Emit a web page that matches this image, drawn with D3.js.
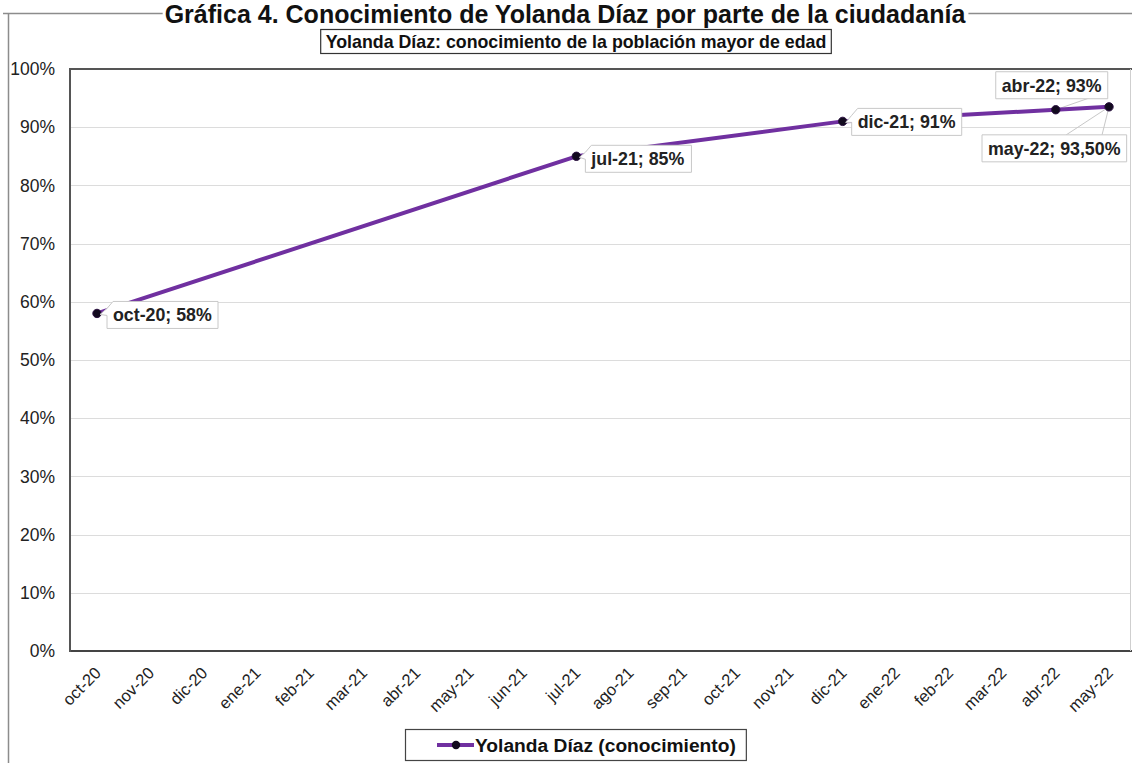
<!DOCTYPE html>
<html>
<head>
<meta charset="utf-8">
<script src="https://cdn.jsdelivr.net/npm/d3@7"></script>
<style>
  html, body { margin: 0; padding: 0; background: #fff; }
  svg { display: block; font-family: "Liberation Sans", Arial, sans-serif; }
</style>
</head>
<body>
<svg id="chart" width="1132" height="763"></svg>
<script>
// Months shown on the category axis
const months = ["oct-20","nov-20","dic-20","ene-21","feb-21","mar-21","abr-21","may-21","jun-21","jul-21",
                "ago-21","sep-21","oct-21","nov-21","dic-21","ene-22","feb-22","mar-22","abr-22","may-22"];
// Survey waves and share of adults who know Yolanda Díaz (%)
const surveyMonths = ["oct-20","jul-21","dic-21","abr-22","may-22"];
const knowledge = [58, 85, 91, 93, 93.5];
const valueLabels = ["58%","85%","91%","93%","93,50%"];
const yTicks = [0,10,20,30,40,50,60,70,80,90,100];

const title = "Gráfica 4. Conocimiento de Yolanda Díaz por parte de la ciudadanía";
const subtitle = "Yolanda Díaz: conocimiento de la población mayor de edad";
const seriesName = "Yolanda Díaz (conocimiento)";

const svg = d3.select("#chart");
const purple = "#7030a0";

const plot = { left: 70, right: 1130, top: 69, bottom: 651 };

const x = d3.scalePoint().domain(months).range([97, 1109]);
const y = d3.scaleLinear().domain([0, 100]).range([plot.bottom, plot.top]);

// Outer frame
svg.append("path")
  .attr("d", `M3,13.5H1132 M8.5,13V763`)
  .attr("stroke", "#8c8c8c").attr("stroke-width", 1.5).attr("fill", "none");

// Main title on a white band over the frame
const tt = svg.append("text")
  .attr("x", 565).attr("y", 23.3)
  .attr("text-anchor", "middle")
  .attr("font-weight", "bold").attr("font-size", 25)
  .attr("fill", "#111")
  .text(title);
const tb = tt.node().getBBox();
svg.insert("rect", "text")
  .attr("x", tb.x - 2).attr("y", 0)
  .attr("width", tb.width + 4).attr("height", 25)
  .attr("fill", "#fff");

// Subtitle with box
const sub = svg.append("text")
  .attr("x", 576).attr("y", 47.5)
  .attr("text-anchor", "middle")
  .attr("font-weight", "bold").attr("font-size", 17.8)
  .attr("fill", "#111")
  .text(subtitle);
const sb = sub.node().getBBox();
svg.append("rect")
  .attr("x", sb.x - 5).attr("y", 29.5)
  .attr("width", sb.width + 10).attr("height", 24)
  .attr("fill", "#fff").attr("stroke", "#333").attr("stroke-width", 1.2);
sub.raise();

// Horizontal gridlines
svg.append("g").selectAll("line")
  .data(yTicks.filter(d => d > 0 && d < 100))
  .join("line")
  .attr("x1", plot.left).attr("x2", plot.right)
  .attr("y1", d => Math.round(y(d)) + 0.5).attr("y2", d => Math.round(y(d)) + 0.5)
  .attr("stroke", "#dcdcdc").attr("stroke-width", 1.2);

// Plot edges
svg.append("line").attr("x1", plot.left).attr("x2", 1132)
  .attr("y1", plot.top).attr("y2", plot.top)
  .attr("stroke", "#555").attr("stroke-width", 2);
svg.append("line").attr("x1", plot.left).attr("x2", 1132)
  .attr("y1", plot.bottom).attr("y2", plot.bottom)
  .attr("stroke", "#444").attr("stroke-width", 2);
svg.append("line").attr("x1", plot.left).attr("x2", plot.left)
  .attr("y1", plot.top - 1).attr("y2", plot.bottom + 1)
  .attr("stroke", "#555").attr("stroke-width", 2);
svg.append("line").attr("x1", 1130.5).attr("x2", 1130.5)
  .attr("y1", plot.top).attr("y2", plot.bottom)
  .attr("stroke", "#cfcfcf").attr("stroke-width", 1);

// Y axis labels
svg.append("g").selectAll("text")
  .data(yTicks)
  .join("text")
  .attr("x", 55).attr("y", d => y(d))
  .attr("dy", "0.35em")
  .attr("text-anchor", "end")
  .attr("font-size", 17.5).attr("fill", "#222")
  .text(d => d + "%");

// X axis labels, rotated
svg.append("g").selectAll("text")
  .data(months)
  .join("text")
  .attr("transform", d => `translate(${x(d) + 5},${674}) rotate(-45)`)
  .attr("text-anchor", "end")
  .attr("font-size", 16.5).attr("fill", "#222")
  .text(d => d);

// Series
const pts = surveyMonths.map((m, i) => ({ m, v: knowledge[i], label: valueLabels[i] }));
const line = d3.line().x(d => x(d.m)).y(d => y(d.v));

// Leader lines for the two crowded labels at the end
const leaders = [
  { m: "abr-22", to: [[1092, 97]] },
  { m: "may-22", to: [[1066, 135], [1102, 135]] }
];
leaders.forEach(l => {
  const p = pts.find(d => d.m === l.m);
  l.to.forEach(t => {
    svg.append("line")
      .attr("x1", x(p.m)).attr("y1", y(p.v))
      .attr("x2", t[0]).attr("y2", t[1])
      .attr("stroke", "#c8c8c8").attr("stroke-width", 1);
  });
});

svg.append("path")
  .datum(pts)
  .attr("d", line)
  .attr("fill", "none").attr("stroke", purple).attr("stroke-width", 4)
  .attr("stroke-linejoin", "round");

svg.append("g").selectAll("circle")
  .data(pts)
  .join("circle")
  .attr("cx", d => x(d.m)).attr("cy", d => y(d.v))
  .attr("r", 4.2)
  .attr("fill", "#120a1e").attr("stroke", "#2a1040").attr("stroke-width", 1);

// Data labels: position of box left/top relative to the point
const labelOffsets = {
  "oct-20": { dx: 10, dy: -12, pointer: true },
  "jul-21": { dx: 9, dy: -11, pointer: true },
  "dic-21": { dx: 9, dy: -13, pointer: true },
  "abr-22": { dx: -60, dy: -38, pointer: false },
  "may-22": { dx: -127, dy: 28, pointer: false }
};
const lblG = svg.append("g");
pts.forEach(d => {
  const o = labelOffsets[d.m];
  const px = x(d.m), py = y(d.v);
  const g = lblG.append("g");
  const t = g.append("text")
    .attr("x", px + o.dx + 6).attr("y", py + o.dy + 20)
    .attr("font-weight", "bold").attr("font-size", 17.8).attr("fill", "#222")
    .text(`${d.m}; ${d.label}`);
  const b = t.node().getBBox();
  const bx = px + o.dx, by = py + o.dy;
  const bw = b.width + 12, bh = 27;
  let path;
  if (o.pointer) {
    // callout box with a small notch pointing back to the marker
    path = `M${bx + 6},${by}H${bx + bw}V${by + bh}H${bx}V${by + 14}L${px + 3},${py + 1}L${bx},${by + 7}Z`;
  } else {
    path = `M${bx},${by}H${bx + bw}V${by + bh}H${bx}Z`;
  }
  g.insert("path", "text")
    .attr("d", path)
    .attr("fill", "#fff").attr("stroke", "#c8c8c8").attr("stroke-width", 1);
});

// Legend
const legend = svg.append("g");
const lt = legend.append("text")
  .attr("x", 475).attr("y", 752)
  .attr("font-weight", "bold").attr("font-size", 19.2).attr("fill", "#111")
  .text(seriesName);
const lb = lt.node().getBBox();
legend.insert("rect", "text")
  .attr("x", 405.5).attr("y", 729.5)
  .attr("width", lb.x + lb.width + 10 - 405).attr("height", 31)
  .attr("fill", "#fff").attr("stroke", "#444").attr("stroke-width", 1.2);
legend.append("line")
  .attr("x1", 437).attr("x2", 474).attr("y1", 745).attr("y2", 745)
  .attr("stroke", purple).attr("stroke-width", 4);
legend.append("circle")
  .attr("cx", 456).attr("cy", 745).attr("r", 4.2)
  .attr("fill", "#120a1e");
</script>
</body>
</html>
